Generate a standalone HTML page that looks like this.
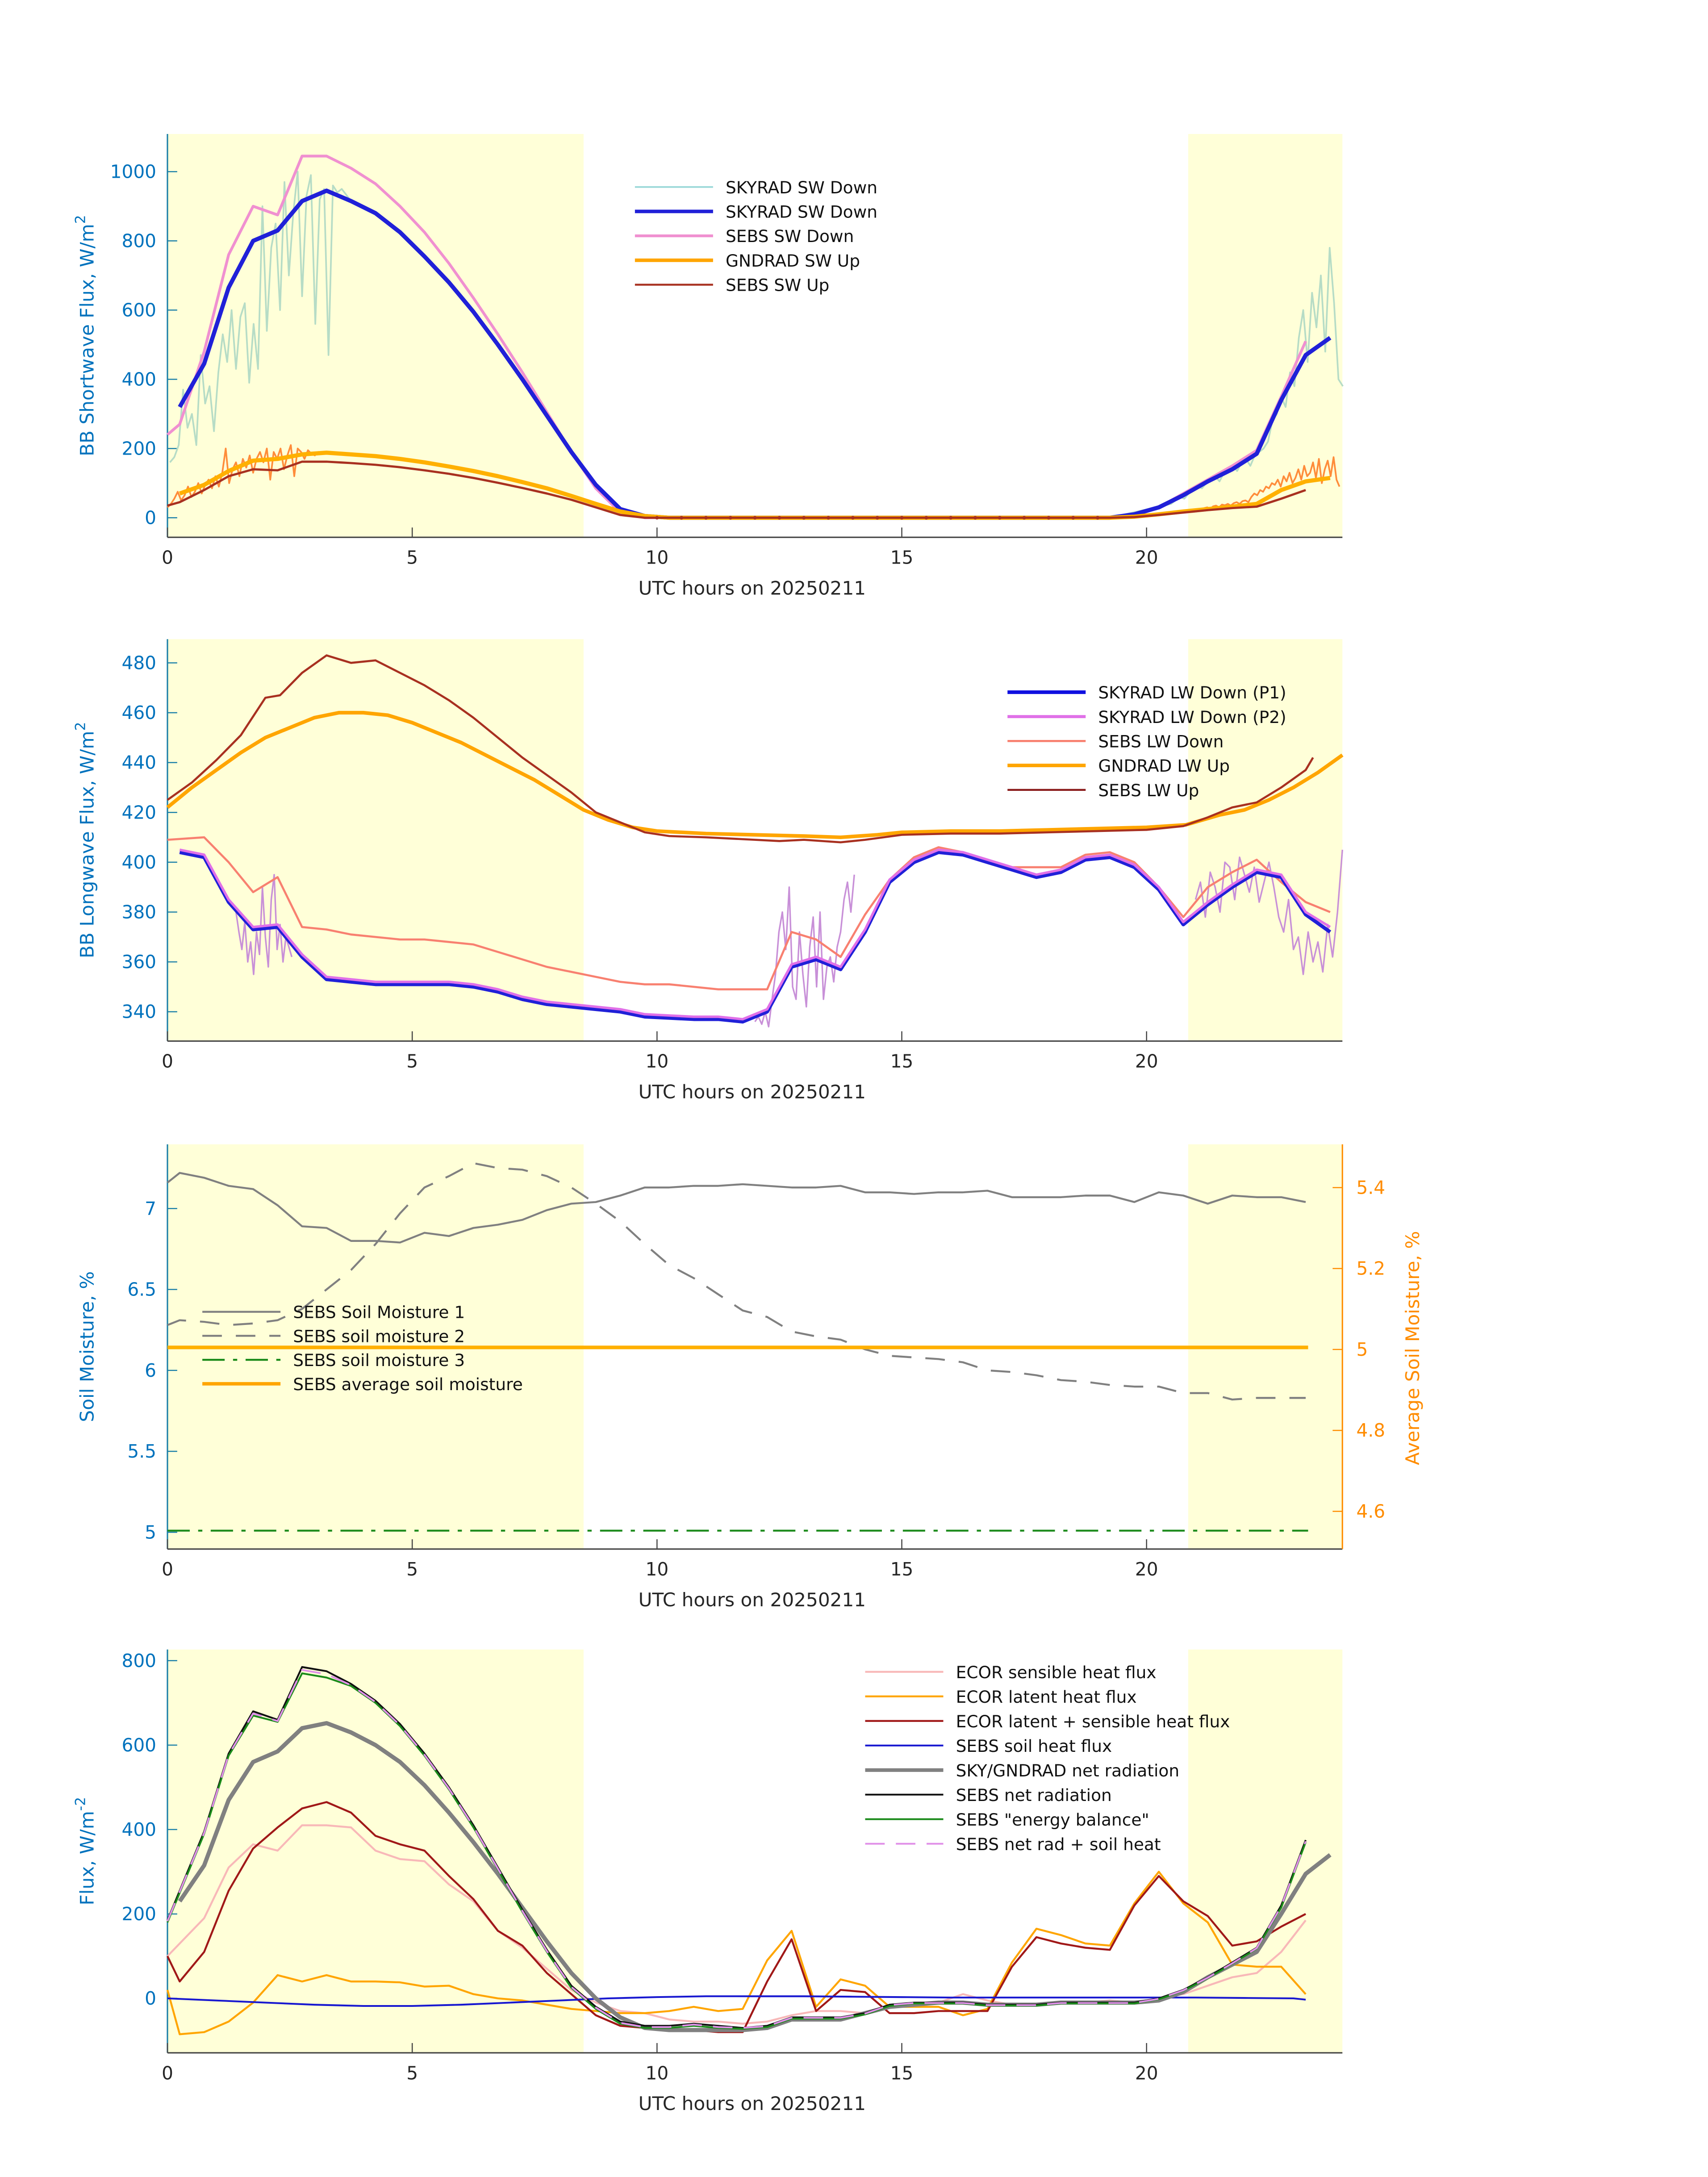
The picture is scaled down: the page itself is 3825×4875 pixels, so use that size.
<!DOCTYPE html>
<html><head><meta charset="utf-8"><style>
html,body{margin:0;padding:0;background:#fff;}
svg{display:block;font-family:"DejaVu Sans","Liberation Sans",sans-serif;}
</style></head><body>
<svg id="fig" width="3825" height="4875" viewBox="0 0 1224 1560" xmlns="http://www.w3.org/2000/svg"></svg>
<script>
// ---------------- DATA ----------------
const hourTicks=[0,5,10,15,20];
// Panel 1
const p1Ticks=[0,200,400,600,800,1000];
const swT=[0.25,0.75,1.25,1.75,2.25,2.75,3.25,3.75,4.25,4.75,5.25,5.75,6.25,6.75,7.25,7.75,8.25,8.75,9.25,9.75,10.25,11,12,13,14,15,16,17,18,19.25,19.75,20.25,20.75,21.25,21.75,22.25,22.75,23.25,23.75];
const skySwDown=[320,445,665,800,830,915,945,915,880,825,755,680,595,500,400,295,190,95,25,5,0,0,0,0,0,0,0,0,0,0,10,30,65,105,140,185,340,470,520];
const sebsSwDown=[270,480,760,900,875,1045,1045,1010,965,900,825,735,635,530,420,305,190,85,15,0,0,0,0,0,0,0,0,0,0,0,5,30,70,110,150,195,350,510,510];
const gndSwUp=[70,95,135,165,170,183,188,183,178,170,160,148,135,120,103,85,63,40,18,5,0,0,0,0,0,0,0,0,0,0,3,10,18,25,32,40,80,105,115];
const sebsSwUp=[45,80,120,140,137,162,162,158,153,146,137,127,115,101,86,70,52,30,8,0,0,0,0,0,0,0,0,0,0,0,2,8,15,22,28,32,55,80,95];
const tealAm=[160,175,210,370,260,300,210,470,330,380,250,420,530,450,600,430,580,620,390,560,430,900,540,780,850,600,970,700,880,1000,640,930,990,560,920,950,470,960,940,950];
const tealPm=[40,50,60,55,70,80,90,85,100,110,120,105,130,140,150,135,160,170,150,180,190,200,220,280,300,350,320,420,380,520,600,450,650,550,700,480,780,620,400,380];
const orAm=[30,40,55,75,50,65,90,60,75,100,70,95,110,85,120,90,130,200,100,140,160,120,170,145,180,130,170,190,160,200,110,190,170,200,140,180,210,120,200,190,170,195,185,180,190,185,188,186,190,185];
const orPm=[20,25,22,28,30,26,33,35,30,38,36,40,35,42,45,40,48,50,45,60,70,65,80,75,90,85,100,95,110,90,120,105,130,100,115,140,110,150,120,130,160,115,170,100,140,165,120,175,110,90];
const zeroDots=[10,10.5,11,11.5,12,12.5,13,13.5,14,14.5,15,15.5,16,16.5,17,17.5,18,18.5,19];
// Panel 2
const p2Ticks=[340,360,380,400,420,440,460,480];
const upT=[0,0.5,1,1.5,2,2.5,3,3.5,4,4.5,5,5.5,6,6.5,7,7.5,8,8.5,9,9.5,10,11,12,13,13.75,14.5,15,16,17,18,19,20,20.8,21.5,22,22.5,23,23.5,24];
const gndLwUp=[422,430,437,444,450,454,458,460,460,459,456,452,448,443,438,433,427,421,417,414,412.5,411.5,411,410.5,410,411,412,412.5,412.5,413,413.5,414,415,419,421,425,430,436,443];
const sebsUpT=[0,0.5,1,1.5,2,2.3,2.75,3.25,3.75,4.25,4.75,5.25,5.75,6.25,6.75,7.25,7.75,8.25,8.75,9.25,9.75,10.25,11,12,12.5,13,13.75,14.25,15,16,17,18,19,20,20.75,21.25,21.75,22.25,22.75,23.25,23.4];
const sebsLwUp=[425,432,441,451,466,467,476,483,480,481,476,471,465,458,450,442,435,428,420,416,412,410.5,410,409,408.5,409,408,409,411,411.5,411.5,412,412.5,413,414.5,418,422,424,430,437,442];
const dnT=[0.25,0.75,1.25,1.75,2.25,2.75,3.25,3.75,4.25,4.75,5.25,5.75,6.25,6.75,7.25,7.75,8.25,8.75,9.25,9.75,10.25,10.75,11.25,11.75,12.25,12.75,13.25,13.75,14.25,14.75,15.25,15.75,16.25,16.75,17.25,17.75,18.25,18.75,19.25,19.75,20.25,20.75,21.25,21.75,22.25,22.75,23.25,23.75];
const skyLwP1=[404,402,384,373,374,362,353,352,351,351,351,351,350,348,345,343,342,341,340,338,337.5,337,337,336,340,358,361,357,372,392,400,404,403,400,397,394,396,401,402,398,389,375,383,390,396,394,379,372];
const skyLwP2=[405,403,385,374,375,363,354,353,352,352,352,352,351,349,346,344,343,342,341,339,338.5,338,338,337,341,359,362,358,373,393,401,405,404,401,398,395,397,402,403,399,390,376,384,391,397,395,380,374];
const sebsDnT=[0,0.75,1.25,1.75,2.25,2.75,3.25,3.75,4.25,4.75,5.25,5.75,6.25,6.75,7.25,7.75,8.25,8.75,9.25,9.75,10.25,10.75,11.25,11.75,12.25,12.75,13.25,13.75,14.25,14.75,15.25,15.75,16.25,16.75,17.25,17.75,18.25,18.75,19.25,19.75,20.25,20.75,21.25,21.75,22.25,22.75,23.25,23.75];
const sebsLwDown=[409,410,400,388,394,374,373,371,370,369,369,368,367,364,361,358,356,354,352,351,351,350,349,349,349,372,369,362,379,393,402,406,404,401,398,398,398,403,404,400,390,378,390,396,401,392,384,380];
const purpW1=[380,372,365,376,360,368,355,372,363,390,370,358,385,395,365,375,360,370,366,362];
const purpW2=[336,338,335,340,334,345,355,372,380,365,390,350,345,372,355,342,366,378,350,380,345,358,362,352,366,372,385,392,380,395];
const purpW3=[385,392,378,396,390,380,400,398,385,402,395,388,398,384,392,400,390,378,372,385,365,370,355,372,360,368,356,375,362,380,405];
// Panel 3
const p3LTicks=[5,5.5,6,6.5,7];
const p3RTicks=[4.6,4.8,5,5.2,5.4];
const smT=[0,0.25,0.75,1.25,1.75,2.25,2.75,3.25,3.75,4.25,4.75,5.25,5.75,6.25,6.75,7.25,7.75,8.25,8.75,9.25,9.75,10.25,10.75,11.25,11.75,12.25,12.75,13.25,13.75,14.25,14.75,15.25,15.75,16.25,16.75,17.25,17.75,18.25,18.75,19.25,19.75,20.25,20.75,21.25,21.75,22.25,22.75,23.25];
const soil1=[7.16,7.22,7.19,7.14,7.12,7.02,6.89,6.88,6.80,6.80,6.79,6.85,6.83,6.88,6.90,6.93,6.99,7.03,7.04,7.08,7.13,7.13,7.14,7.14,7.15,7.14,7.13,7.13,7.14,7.10,7.10,7.09,7.10,7.10,7.11,7.07,7.07,7.07,7.08,7.08,7.04,7.10,7.08,7.03,7.08,7.07,7.07,7.04];
const soil2=[6.28,6.31,6.30,6.28,6.29,6.31,6.38,6.50,6.62,6.78,6.97,7.13,7.20,7.28,7.25,7.24,7.20,7.13,7.03,6.92,6.78,6.65,6.57,6.47,6.37,6.33,6.24,6.21,6.19,6.13,6.09,6.08,6.07,6.05,6.00,5.99,5.97,5.94,5.93,5.91,5.90,5.90,5.86,5.86,5.82,5.83,5.83,5.83];
const soil3=[5.01,5.01];
const soilAvg=[5.005,5.005];
const flatT=[0,23.3];
// Panel 4
const p4Ticks=[0,200,400,600,800];
const fT=[0,0.25,0.75,1.25,1.75,2.25,2.75,3.25,3.75,4.25,4.75,5.25,5.75,6.25,6.75,7.25,7.75,8.25,8.75,9.25,9.75,10.25,10.75,11.25,11.75,12.25,12.75,13.25,13.75,14.25,14.75,15.25,15.75,16.25,16.75,17.25,17.75,18.25,18.75,19.25,19.75,20.25,20.75,21.25,21.75,22.25,22.75,23.25];
const ecorSens=[100,130,190,310,365,350,410,410,405,350,330,325,270,230,160,120,70,20,-10,-30,-35,-50,-55,-55,-60,-55,-40,-30,-30,-35,-20,-15,-10,10,-5,-15,-15,-10,-10,-5,-10,0,10,30,50,60,110,185];
const ecorLat=[20,-85,-80,-55,-10,55,40,55,40,40,38,28,30,10,0,-5,-15,-25,-30,-35,-35,-30,-20,-30,-25,90,160,-20,45,30,-20,-20,-20,-40,-25,85,165,150,130,125,225,300,225,180,80,75,75,10];
const ecorSum=[100,40,110,255,355,405,450,465,440,385,365,350,290,235,160,125,60,10,-40,-65,-70,-75,-75,-80,-80,40,140,-30,20,15,-35,-35,-30,-30,-30,75,145,130,120,115,220,290,230,195,125,135,170,200];
const soilHeatT=[0,1,2,3,4,5,6,7,8,9,10,11,12,13,14,15,16,17,18,19,20,21,22,23,23.25];
const soilHeat=[0,-5,-10,-15,-18,-18,-15,-10,-5,0,3,5,5,5,4,3,2,2,2,2,2,2,1,0,-3];
const netT=[0.25,0.75,1.25,1.75,2.25,2.75,3.25,3.75,4.25,4.75,5.25,5.75,6.25,6.75,7.25,7.75,8.25,8.75,9.25,9.75,10.25,10.75,11.25,11.75,12.25,12.75,13.25,13.75,14.25,14.75,15.25,15.75,16.25,16.75,17.25,17.75,18.25,18.75,19.25,19.75,20.25,20.75,21.25,21.75,22.25,22.75,23.25,23.75];
const skyNet=[230,315,470,560,585,640,652,630,600,560,505,440,370,295,215,135,60,0,-45,-70,-75,-75,-75,-75,-70,-50,-50,-50,-35,-20,-15,-10,-10,-15,-15,-15,-10,-10,-10,-10,-5,15,50,80,110,200,295,340];
const sebsNet=[185,395,580,680,660,785,775,745,705,650,580,500,410,310,210,115,30,-20,-55,-65,-65,-60,-65,-70,-65,-45,-45,-45,-35,-15,-10,-10,-10,-15,-15,-15,-10,-10,-10,-10,0,20,50,85,120,220,375,375];
const sebsEB=[180,390,575,670,655,770,760,740,700,645,575,495,405,305,205,110,25,-25,-60,-70,-70,-65,-70,-72,-68,-48,-48,-48,-38,-18,-12,-12,-12,-17,-17,-17,-12,-12,-12,-12,-2,18,48,82,118,215,370,370];
const sebsRadSoil=[183,392,577,675,657,778,768,742,702,647,577,497,407,307,207,112,27,-22,-58,-68,-68,-62,-68,-70,-66,-46,-46,-46,-36,-16,-11,-11,-11,-16,-16,-16,-11,-11,-11,-11,-1,19,49,83,119,218,372,372];

// ---------------- DRAWING ----------------
const svg=document.getElementById('fig');
const NS='http://www.w3.org/2000/svg';
const X0=120,X1=962;
function X(t){return X0+t*(X1-X0)/24;}
function el(tag,attrs,parent){const e=document.createElementNS(NS,tag);for(const k in attrs)e.setAttribute(k,attrs[k]);(parent||svg).appendChild(e);return e;}
function mkY(v0,py0,v1,py1){return v=>py0+(v-v0)*(py1-py0)/(v1-v0);}
function poly(g,ts,vs,Y,style,name){
  const pts=ts.map((t,i)=>X(t).toFixed(2)+','+Y(vs[i]).toFixed(2)).join(' ');
  const p=el('polyline',Object.assign({points:pts,fill:'none','stroke-linejoin':'round'},style),g);
  
  
  return p;
}
function stepSeries(start,step,n){const a=[];for(let i=0;i<n;i++)a.push(start+i*step);return a;}
function txt(g,x,y,s,attrs,name){const t=el('text',Object.assign({x:x,y:y},attrs),g);t.textContent=s;
  
  
  return t;}

function panel(id,top,bot,Y,ticks,fmt,ylabel,axisColor){
  const g=el('g',{});
  
  
  const s1=el('rect',{x:X0,y:top,width:X(8.5)-X0,height:bot-top,fill:'#ffffd8'},g);
  
  
  const s2=el('rect',{x:X(20.85),y:top,width:X1-X(20.85),height:bot-top,fill:'#ffffd8'},g);
  
  
  const ax=el('line',{x1:X0,y1:top,x2:X0,y2:bot,stroke:axisColor,'stroke-width':1},g);
  
  
  const bx=el('line',{x1:X0,y1:bot,x2:X1,y2:bot,stroke:'#444','stroke-width':1},g);
  
  
  ticks.forEach(v=>{
    el('line',{x1:X0,y1:Y(v),x2:X0+7,y2:Y(v),stroke:axisColor,'stroke-width':0.8},g);
    txt(g,X0-8,Y(v)+4.5,fmt(v),{'text-anchor':'end','font-size':13,fill:'#0072bd'},'y-tick-label');
  });
  hourTicks.forEach(h=>{
    el('line',{x1:X(h),y1:bot,x2:X(h),y2:bot-7,stroke:'#444','stroke-width':0.8},g);
    txt(g,X(h),bot+19,String(h),{'text-anchor':'middle','font-size':13,fill:'#262626'},'x-tick-label');
  });
  txt(g,(X0+X1)/2-2,bot+41,'UTC hours on 20250211',{'text-anchor':'middle','font-size':13.5,fill:'#262626'},'x-axis-title');
  const cy=(top+bot)/2;
  const yl=el('text',{x:0,y:0,transform:`translate(67,${cy}) rotate(-90)`,'text-anchor':'middle','font-size':13.5,fill:'#0072bd'},g);
  yl.innerHTML=ylabel;
  
  
  return g;
}
function legend(g,x,y,items,dy){
  const lg=el('g',{},g);
  
  
  items.forEach((it,i)=>{
    const yy=y+i*dy;
    const l=el('line',Object.assign({x1:x,y1:yy,x2:x+56,y2:yy},it.style),lg);
    
    
    txt(lg,x+65,yy+4.5,it.label,{'font-size':12,fill:'#111'},'legend-entry');
  });
}

// ---- Panel 1 ----
{
const Y=mkY(0,371,1000,123);
const g=panel('shortwave-panel',96,385,Y,p1Ticks,v=>String(v),'BB Shortwave Flux, W/m<tspan dy="-6" font-size="10">2</tspan>','#1a7fa8');
const c1={stroke:'#b6dcc6','stroke-width':1.2};
poly(g,stepSeries(0.05,0.09,tealAm.length).concat(swT.slice(7,30)).concat(stepSeries(20.5,0.09,tealPm.length)),tealAm.concat(skySwDown.slice(7,30)).concat(tealPm),Y,c1,'skyrad-sw-down-raw');
poly(g,stepSeries(0,0.07,orAm.length),orAm,Y,{stroke:'#ff8c3a','stroke-width':1.2},'gndrad-sw-up-raw-am');
poly(g,stepSeries(21,0.06,orPm.length),orPm,Y,{stroke:'#ff8c3a','stroke-width':1.2},'gndrad-sw-up-raw-pm');
poly(g,[0].concat(swT.slice(0,38)),[240].concat(sebsSwDown.slice(0,38)),Y,{stroke:'#f090d0','stroke-width':2},'sebs-sw-down');
poly(g,swT,skySwDown,Y,{stroke:'#2020d8','stroke-width':3},'skyrad-sw-down');
poly(g,swT,gndSwUp,Y,{stroke:'#ffb000','stroke-width':3},'gndrad-sw-up');
poly(g,[0].concat(swT.slice(0,38)),[35].concat(sebsSwUp.slice(0,38)),Y,{stroke:'#a83020','stroke-width':1.6},'sebs-sw-up');
zeroDots.forEach(t=>{const d=el('circle',{cx:X(t),cy:Y(0),r:1.3,fill:'#a83020'},g);
  
  });
legend(g,455,134,[
 {label:'SKYRAD SW Down',style:{stroke:'#9ad8d8','stroke-width':1.2}},
 {label:'SKYRAD SW Down',style:{stroke:'#2020d8','stroke-width':2.5}},
 {label:'SEBS SW Down',style:{stroke:'#f090d0','stroke-width':2}},
 {label:'GNDRAD SW Up',style:{stroke:'#ffa500','stroke-width':2.5}},
 {label:'SEBS SW Up',style:{stroke:'#a83020','stroke-width':1.4}}],17.5);
}
// ---- Panel 2 ----
{
const Y=mkY(340,725,480,475);
const g=panel('longwave-panel',458,746,Y,p2Ticks,v=>String(v),'BB Longwave Flux, W/m<tspan dy="-6" font-size="10">2</tspan>','#1a7fa8');
const raw={stroke:'#c890d8','stroke-width':1.1};
poly(g,stepSeries(1.4,0.06,purpW1.length),purpW1,Y,raw,'skyrad-lw-raw-1');
poly(g,stepSeries(12.0,0.07,purpW2.length),purpW2,Y,raw,'skyrad-lw-raw-2');
poly(g,stepSeries(21,0.1,purpW3.length),purpW3,Y,raw,'skyrad-lw-raw-3');
poly(g,upT,gndLwUp,Y,{stroke:'#ff8c3a','stroke-width':1.2},'gndrad-lw-up-raw');
poly(g,sebsDnT,sebsLwDown,Y,{stroke:'#f88070','stroke-width':1.5},'sebs-lw-down');
poly(g,dnT,skyLwP1,Y,{stroke:'#2020d8','stroke-width':2.6},'skyrad-lw-down-p1');
poly(g,dnT,skyLwP2,Y,{stroke:'#e070e8','stroke-width':1.8},'skyrad-lw-down-p2');
poly(g,upT,gndLwUp,Y,{stroke:'#ffa500','stroke-width':2.6},'gndrad-lw-up');
poly(g,sebsUpT,sebsLwUp,Y,{stroke:'#a83020','stroke-width':1.5},'sebs-lw-up');
legend(g,722,496,[
 {label:'SKYRAD LW Down (P1)',style:{stroke:'#1010e0','stroke-width':2.6}},
 {label:'SKYRAD LW Down (P2)',style:{stroke:'#e070e8','stroke-width':2.2}},
 {label:'SEBS LW Down',style:{stroke:'#f88070','stroke-width':1.5}},
 {label:'GNDRAD LW Up',style:{stroke:'#ffa500','stroke-width':2.5}},
 {label:'SEBS LW Up',style:{stroke:'#8a1a1a','stroke-width':1.4}}],17.5);
}
// ---- Panel 3 ----
{
const Y=mkY(7,866,5,1098);
const YR=mkY(5.4,851,4.6,1083);
const g=panel('soil-moisture-panel',820,1110,Y,p3LTicks,v=>String(v),'Soil Moisture, %','#1a7fa8');
const ra=el('line',{x1:X1,y1:820,x2:X1,y2:1110,stroke:'#ff8c00','stroke-width':1},g);


p3RTicks.forEach(v=>{
  el('line',{x1:X1-7,y1:YR(v),x2:X1,y2:YR(v),stroke:'#ff8c00','stroke-width':0.8},g);
  txt(g,X1+10,YR(v)+4.5,String(v),{'font-size':13,fill:'#ff8c00'},'right-y-tick-label');
});
const rl=el('text',{x:0,y:0,transform:'translate(1017,966) rotate(-90)','text-anchor':'middle','font-size':13.5,fill:'#ff8c00'},g);
rl.textContent='Average Soil Moisture, %';


poly(g,smT,soil1,Y,{stroke:'#808080','stroke-width':1.4},'sebs-soil-moisture-1');
poly(g,smT,soil2,Y,{stroke:'#808080','stroke-width':1.4,'stroke-dasharray':'14,10'},'sebs-soil-moisture-2');
poly(g,flatT,soil3,Y,{stroke:'#1a8a1a','stroke-width':1.4,'stroke-dasharray':'16,6,3,6'},'sebs-soil-moisture-3');
poly(g,flatT,soilAvg,YR,{stroke:'#ffb000','stroke-width':2.6},'sebs-average-soil-moisture');
legend(g,145,940,[
 {label:'SEBS Soil Moisture 1',style:{stroke:'#808080','stroke-width':1.4}},
 {label:'SEBS soil moisture 2',style:{stroke:'#808080','stroke-width':1.4,'stroke-dasharray':'14,10'}},
 {label:'SEBS soil moisture 3',style:{stroke:'#1a8a1a','stroke-width':1.4,'stroke-dasharray':'16,6,3,6'}},
 {label:'SEBS average soil moisture',style:{stroke:'#ffa500','stroke-width':2.5}}],17.2);
}
// ---- Panel 4 ----
{
const Y=mkY(0,1432,800,1190);
const g=panel('flux-panel',1182,1471,Y,p4Ticks,v=>String(v),'Flux, W/m<tspan dy="-6" font-size="10">-2</tspan>','#1a7fa8');
poly(g,fT,ecorSens,Y,{stroke:'#f8b8b8','stroke-width':1.4},'ecor-sensible-heat-flux');
poly(g,fT,ecorLat,Y,{stroke:'#ffa500','stroke-width':1.4},'ecor-latent-heat-flux');
poly(g,fT,ecorSum,Y,{stroke:'#a01818','stroke-width':1.4},'ecor-latent-plus-sensible');
poly(g,soilHeatT,soilHeat,Y,{stroke:'#1818d0','stroke-width':1.3},'sebs-soil-heat-flux');
poly(g,netT,skyNet,Y,{stroke:'#808080','stroke-width':3},'sky-gndrad-net-radiation');
poly(g,[0].concat(netT.slice(1,47)),sebsNet.slice(0,47),Y,{stroke:'#111','stroke-width':1.3},'sebs-net-radiation');
poly(g,[0].concat(netT.slice(1,47)),sebsEB.slice(0,47),Y,{stroke:'#1a8a1a','stroke-width':1.3},'sebs-energy-balance');
poly(g,[0].concat(netT.slice(1,47)),sebsRadSoil.slice(0,47),Y,{stroke:'#e090e8','stroke-width':1.3,'stroke-dasharray':'14,8'},'sebs-net-rad-plus-soil-heat');
legend(g,620,1198,[
 {label:'ECOR sensible heat flux',style:{stroke:'#f8b8b8','stroke-width':1.4}},
 {label:'ECOR latent heat flux',style:{stroke:'#ffa500','stroke-width':1.4}},
 {label:'ECOR latent + sensible heat flux',style:{stroke:'#a01818','stroke-width':1.4}},
 {label:'SEBS soil heat flux',style:{stroke:'#1818d0','stroke-width':1.3}},
 {label:'SKY/GNDRAD net radiation',style:{stroke:'#808080','stroke-width':2.6}},
 {label:'SEBS net radiation',style:{stroke:'#111','stroke-width':1.3}},
 {label:'SEBS "energy balance"',style:{stroke:'#1a8a1a','stroke-width':1.3}},
 {label:'SEBS net rad + soil heat',style:{stroke:'#e090e8','stroke-width':1.3,'stroke-dasharray':'14,8'}}],17.6);
}
</script>
</body></html>
